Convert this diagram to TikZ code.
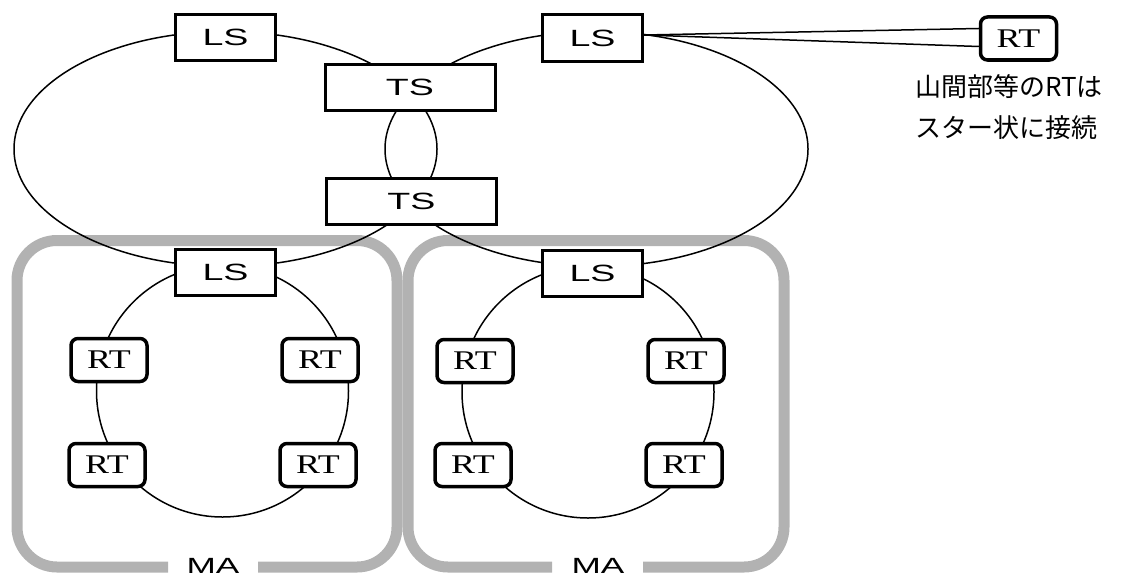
\documentclass[tikz,border=0pt]{standalone}
\usepackage{fontspec}
\usetikzlibrary{shapes.geometric}
\newfontfamily\boxfont[FakeStretch=1.6]{Liberation Sans}
\newfontfamily\rtfont[FakeStretch=1.33]{Liberation Serif}
\newfontfamily\jpfont{Noto Sans CJK JP}
\colorlet{magray}{black!30}

\begin{document}
\begin{tikzpicture}[x=1pt, y=-1pt,
    exch/.style={rectangle, draw, line width=3pt, fill=white, inner sep=0pt,
                 minimum width=#1, minimum height=46pt,
                 font=\boxfont\fontsize{23.5}{28}\selectfont},
    term/.style={rectangle, draw, rounded corners=7pt, line width=3.5pt, fill=white,
                 inner sep=0pt, minimum width=76pt, minimum height=43pt,
                 font=\rtfont\fontsize{27}{30}\selectfont},
    netring/.style={draw, line width=1.5pt, inner sep=0pt},
    area/.style={draw=magray, line width=11pt, rounded corners=40pt},
    lbl/.style={inner sep=0pt, font=\boxfont\fontsize{22}{26}\selectfont}
]
\useasboundingbox (0,0) rectangle (1123,578);

% MA areas
\node[lbl, anchor=base] (maL) at (213,573) {MA};
\node[lbl, anchor=base] (maR) at (598,573) {MA};
\draw[area] (168,567) -- (17,567) -- (17,240.5) -- (397,240.5) -- (397,567) -- (258,567);
\draw[area] (552,567) -- (408,567) -- (408,240.5) -- (784,240.5) -- (784,567) -- (643,567);

% rings
\node[netring, ellipse, minimum width=423pt, minimum height=235pt] (ringL) at (225.5,149) {};
\node[netring, ellipse, minimum width=423pt, minimum height=235pt] (ringR) at (596.5,149) {};
\node[netring, circle, minimum size=252pt] (loopL) at (222.5,391) {};
\node[netring, circle, minimum size=252pt] (loopR) at (588,392) {};

% star connection
\node[term] (rtS) at (1018.5,38.5) {RT};
\node[exch=100pt] (lsB) at (592.5,38) {LS};
\draw[line width=1.5pt] ([yshift=3pt]lsB.east) -- ([yshift=10pt]rtS.west);
\draw[line width=1.5pt] ([yshift=3pt]lsB.east) -- ([yshift=-8pt]rtS.west);
\node[anchor=north west, align=left, inner sep=0pt,
      font=\jpfont\fontsize{26}{41}\selectfont] (note) at (915,74) {山間部等のRTは\\スター状に接続};

% switches
\node[exch=100pt] (lsA) at (225.5,37.5) {LS};
\node[exch=170pt] (tsA) at (410,87.5) {TS};
\node[exch=170pt] (tsB) at (411.5,201.5) {TS};
\node[exch=100pt] (lsC) at (225.5,272.5) {LS};
\node[exch=100pt] (lsD) at (592.5,273) {LS};

% RTs
\node[term] (rt1) at (109,360) {RT};
\node[term] (rt2) at (320,360) {RT};
\node[term] (rt3) at (107,465) {RT};
\node[term] (rt4) at (318,465) {RT};
\node[term] (rt5) at (475,361) {RT};
\node[term] (rt6) at (686,361) {RT};
\node[term] (rt7) at (473,465) {RT};
\node[term] (rt8) at (684,465) {RT};
\end{tikzpicture}
\end{document}
